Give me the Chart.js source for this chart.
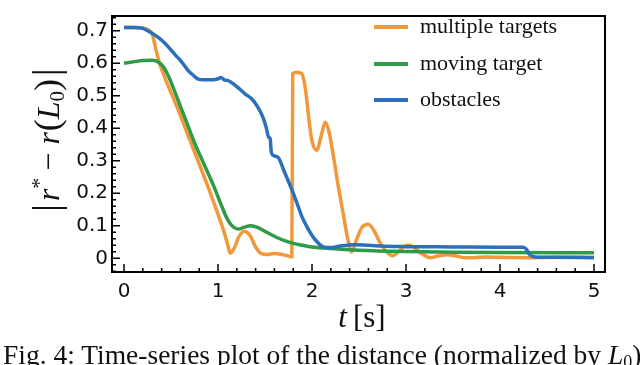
<!DOCTYPE html>
<html>
<head>
<meta charset="utf-8">
<script src="https://cdn.jsdelivr.net/npm/chart.js@4"></script>
<style>
html, body { margin: 0; padding: 0; background: #fff; }
#wrap { position: relative; width: 640px; height: 365px; overflow: hidden; }
#caption { position: absolute; left: 3px; top: 341px; font: 27.5px "Liberation Serif", serif; line-height: 1; white-space: nowrap; color: #111; }
#caption sub { font-size: 18px; line-height: 0; vertical-align: -4px; }
</style>
</head>
<body>
<div id="wrap">
<canvas id="distChart" width="640" height="365"></canvas>
<div id="caption">Fig. 4: Time-series plot of the distance (normalized by <i>L</i><sub>0</sub>)</div>
</div>
<script>
// series: time [s] and |r* - r(L0)|
const seriesLabels = ['multiple targets', 'moving target', 'obstacles'];

const tMultiple = [0, 0.1, 0.2, 0.26, 0.3, 0.34, 0.38, 0.45, 0.57, 0.7, 0.8, 0.9, 1.0, 1.06, 1.1, 1.13,
    1.17, 1.22, 1.28, 1.34, 1.4, 1.46, 1.52, 1.6, 1.68, 1.76, 1.785, 1.795, 1.84, 1.89, 1.93, 1.97, 2.0,
    2.05, 2.1, 2.14, 2.18, 2.23, 2.28, 2.33, 2.38, 2.42, 2.47, 2.53, 2.6, 2.66, 2.73, 2.8, 2.86, 2.92,
    2.98, 3.04, 3.1, 3.18, 3.26, 3.34, 3.43, 3.52, 3.62, 3.72, 3.85, 4.0, 4.3, 4.6, 5.0];
const rMultiple = [0.71, 0.71, 0.708, 0.702, 0.69, 0.64, 0.598, 0.544, 0.461, 0.364, 0.29, 0.215, 0.135, 0.085, 0.045, 0.016,
    0.03, 0.065, 0.083, 0.07, 0.035, 0.015, 0.012, 0.015, 0.012, 0.006, 0.005, 0.568, 0.572, 0.568, 0.52, 0.42, 0.36,
    0.332, 0.38, 0.418, 0.39, 0.31, 0.22, 0.14, 0.06, 0.02, 0.055, 0.095, 0.105, 0.085, 0.045, 0.018, 0.008, 0.02,
    0.037, 0.04, 0.03, 0.012, 0.002, 0.007, 0.011, 0.008, 0.002, 0.002, 0.004, 0.003, 0.002, 0.003, 0.003];

const tMoving = [0, 0.1, 0.2, 0.3, 0.36, 0.42, 0.48, 0.55, 0.65, 0.75, 0.85, 0.95, 1.04, 1.1, 1.16, 1.22,
    1.28, 1.35, 1.42, 1.5, 1.6, 1.7, 1.8, 1.9, 2.0, 2.2, 2.5, 3.0, 3.5, 4.0, 5.0];
const rMoving = [0.6, 0.604, 0.608, 0.609, 0.604, 0.588, 0.555, 0.505, 0.43, 0.355, 0.29, 0.225, 0.16, 0.12, 0.097, 0.09,
    0.096, 0.1, 0.095, 0.083, 0.068, 0.055, 0.046, 0.04, 0.035, 0.03, 0.025, 0.021, 0.019, 0.018, 0.017];

const tObstacles = [0, 0.1, 0.2, 0.28, 0.36, 0.44, 0.54, 0.61, 0.68, 0.74, 0.79, 0.85, 0.95, 1.0, 1.03, 1.07,
    1.1, 1.13, 1.2, 1.29, 1.36, 1.43, 1.48, 1.51, 1.54, 1.555, 1.565, 1.58, 1.64, 1.7, 1.78, 1.84, 1.89,
    1.95, 2.0, 2.05, 2.12, 2.2, 2.3, 2.45, 2.6, 2.8, 3.0, 3.5, 4.0, 4.25, 4.28, 4.32, 4.38, 4.6, 5.0];
const rObstacles = [0.71, 0.71, 0.707, 0.695, 0.68, 0.66, 0.627, 0.605, 0.578, 0.562, 0.551, 0.549, 0.549, 0.552, 0.556, 0.548,
    0.547, 0.543, 0.528, 0.505, 0.49, 0.462, 0.432, 0.405, 0.372, 0.368, 0.33, 0.318, 0.31, 0.27, 0.215, 0.17, 0.13,
    0.095, 0.07, 0.052, 0.035, 0.033, 0.038, 0.042, 0.04, 0.037, 0.036, 0.035, 0.034, 0.034, 0.028, 0.01, 0.004, 0.003, 0.002];

const xTicks = [0, 1, 2, 3, 4, 5];
const yTicks = [0, 0.1, 0.2, 0.3, 0.4, 0.5, 0.6, 0.7];

const colors = ['#f0983a', '#2f9a48', '#2b6fbd'];
const serif = '"Liberation Serif", "Times New Roman", serif';

function points(ts, rs) {
    return ts.map((t, i) => ({ x: t, y: rs[i] }));
}

function minorValues(major, min, max) {
    const out = [];
    const step = (major[1] - major[0]) / 5;
    for (let v = major[0] - step; v >= min; v -= step) out.push(v);
    for (let i = 0; i < major.length - 1; i++) {
        const s = (major[i + 1] - major[i]) / 5;
        for (let k = 1; k < 5; k++) out.push(major[i] + k * s);
    }
    for (let v = major[major.length - 1] + step; v <= max; v += step) out.push(v);
    return out;
}

function drawRuns(ctx, runs) {
    let total = 0;
    runs.forEach(r => { ctx.font = r.font; total += ctx.measureText(r.text).width + (r.gap || 0); });
    let x = -total / 2;
    runs.forEach(r => {
        ctx.font = r.font;
        ctx.fillText(r.text, x, r.dy || 0);
        x += ctx.measureText(r.text).width + (r.gap || 0);
    });
}

const framePlugin = {
    id: 'frameAndDecor',
    afterDraw(chart) {
        const ctx = chart.ctx;
        const a = chart.chartArea;
        const xs = chart.scales.x, ys = chart.scales.y;
        ctx.save();
        ctx.strokeStyle = '#000';
        ctx.lineWidth = 2;
        ctx.strokeRect(a.left, a.top, a.right - a.left, a.bottom - a.top);

        // inward ticks on bottom and left
        ctx.lineWidth = 1.5;
        ctx.beginPath();
        xTicks.forEach(v => { const p = xs.getPixelForValue(v); ctx.moveTo(p, a.bottom); ctx.lineTo(p, a.bottom - 8); });
        minorValues(xTicks, xs.min, xs.max).forEach(v => { const p = xs.getPixelForValue(v); ctx.moveTo(p, a.bottom); ctx.lineTo(p, a.bottom - 4); });
        yTicks.forEach(v => { const p = ys.getPixelForValue(v); ctx.moveTo(a.left, p); ctx.lineTo(a.left + 8, p); });
        minorValues(yTicks, ys.min, ys.max).forEach(v => { const p = ys.getPixelForValue(v); ctx.moveTo(a.left, p); ctx.lineTo(a.left + 4, p); });
        ctx.stroke();

        // legend inside the plot
        ctx.lineWidth = 4;
        ctx.textBaseline = 'middle';
        ctx.fillStyle = '#111';
        ctx.font = '22px ' + serif;
        const legendY = [27, 64, 100];
        chart.data.datasets.forEach((ds, i) => {
            ctx.strokeStyle = ds.borderColor;
            ctx.beginPath();
            ctx.moveTo(374, legendY[i]);
            ctx.lineTo(408, legendY[i]);
            ctx.stroke();
            ctx.fillText(ds.label, 420, legendY[i]);
        });

        // axis titles
        ctx.textBaseline = 'alphabetic';
        ctx.save();
        ctx.translate(362, 327);
        drawRuns(ctx, [
            { text: 't', font: 'italic 31px ' + serif, gap: 6 },
            { text: '[s]', font: '31px ' + serif }
        ]);
        ctx.restore();

        ctx.save();
        ctx.translate(59, 140);
        ctx.rotate(-Math.PI / 2);
        drawRuns(ctx, [
            { text: '|', font: '38px ' + serif, gap: 3 },
            { text: 'r', font: 'italic 32px ' + serif },
            { text: '*', font: '22px ' + serif, dy: -13, gap: 7 },
            { text: '\u2212', font: '32px ' + serif, gap: 8 },
            { text: 'r', font: 'italic 32px ' + serif, gap: 1 },
            { text: '(', font: '36px ' + serif },
            { text: 'L', font: 'italic 32px ' + serif },
            { text: '0', font: '21px ' + serif, dy: 5 },
            { text: ')', font: '36px ' + serif, gap: 3 },
            { text: '|', font: '38px ' + serif }
        ]);
        ctx.restore();
        ctx.restore();
    }
};

const tickFont = { family: '"DejaVu Sans", sans-serif', size: 20 };

new Chart(document.getElementById('distChart'), {
    type: 'line',
    data: {
        datasets: [
            { label: seriesLabels[0], data: points(tMultiple, rMultiple), borderColor: colors[0], order: 3 },
            { label: seriesLabels[1], data: points(tMoving, rMoving), borderColor: colors[1], order: 2 },
            { label: seriesLabels[2], data: points(tObstacles, rObstacles), borderColor: colors[2], order: 1 }
        ].map(ds => Object.assign(ds, { borderWidth: 3.5, pointRadius: 0, fill: false, cubicInterpolationMode: 'monotone' }))
    },
    options: {
        responsive: false,
        animation: false,
        layout: { padding: { top: 3, right: 35, left: 0, bottom: 0 } },
        plugins: { legend: { display: false }, tooltip: { enabled: false } },
        scales: {
            x: {
                type: 'linear',
                min: -0.128,
                max: 5.117,
                afterFit(s) { s.height = 93; },
                afterBuildTicks(s) { s.ticks = xTicks.map(v => ({ value: v })); },
                grid: { display: false, drawTicks: false },
                border: { display: false },
                ticks: { font: tickFont, color: '#111', padding: 8, maxRotation: 0, autoSkip: false }
            },
            y: {
                min: -0.042,
                max: 0.745,
                afterFit(s) { s.width = 112; },
                afterBuildTicks(s) { s.ticks = yTicks.map(v => ({ value: v })); },
                grid: { display: false, drawTicks: false },
                border: { display: false },
                ticks: {
                    font: tickFont, color: '#111', padding: 4, autoSkip: false,
                    callback: v => (v === 0 ? '0' : v.toFixed(1))
                }
            }
        }
    },
    plugins: [framePlugin]
});
</script>
</body>
</html>
